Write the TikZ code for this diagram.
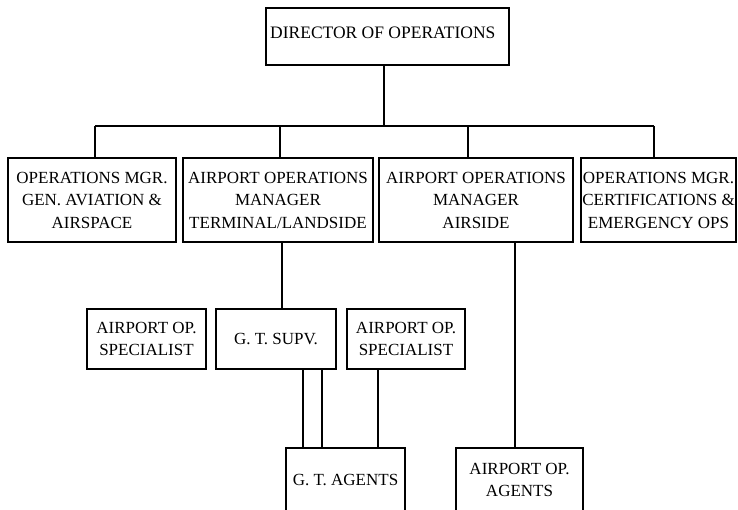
\documentclass[tikz,border=0pt]{standalone}
\usepackage{fontspec}
\setmainfont{Liberation Serif}
\begin{document}
\begin{tikzpicture}[x=1pt,y=-1pt,
  box/.style={draw, line width=1.2pt, inner sep=0pt, align=center,
    font=\fontsize{17}{22.5}\selectfont},
  plain/.style={inner sep=0pt, font=\fontsize{17.5}{22.5}\selectfont},
  link/.style={line width=1.2pt}]
\useasboundingbox (0,0) rectangle (738,509);

% top level
\node[box, minimum width=243, minimum height=57] (dir) at (387.5,36.5) {};
\node[plain, anchor=base west] (dirtext) at (270,38) {DIRECTOR OF OPERATIONS};

% managers
\node[box, minimum width=168, minimum height=84] (gen) at (92,200)
  {OPERATIONS MGR.\\GEN. AVIATION \&\\AIRSPACE};
\node[box, minimum width=190, minimum height=84] (land) at (278,200)
  {AIRPORT OPERATIONS\\MANAGER\\TERMINAL/LANDSIDE};
\node[box, minimum width=194, minimum height=84] (air) at (476,200)
  {AIRPORT OPERATIONS\\MANAGER\\AIRSIDE};
\node[box, minimum width=155, minimum height=84] (cert) at (658.5,200)
  {OPERATIONS MGR.\\CERTIFICATIONS \&\\EMERGENCY OPS};

% staff
\node[box, minimum width=119, minimum height=60] (spec1) at (146.5,339)
  {AIRPORT OP.\\SPECIALIST};
\node[box, minimum width=120, minimum height=60] (supv) at (276,339)
  {G. T. SUPV.};
\node[box, minimum width=118, minimum height=60] (spec2) at (406,339)
  {AIRPORT OP.\\SPECIALIST};
\node[box, minimum width=119, minimum height=64] (gtag) at (345.5,480)
  {G. T. AGENTS};
\node[box, minimum width=127, minimum height=64] (opag) at (519.5,480)
  {AIRPORT OP.\\AGENTS};

% branch bar under the director
\coordinate (b0) at (384,126);
\coordinate (b1) at (95,126);
\coordinate (b2) at (280,126);
\coordinate (b3) at (468,126);
\coordinate (b4) at (654,126);
\draw[link] (b0 |- dir.south) -- (b0);
\draw[link] (b1) -- (b4);
\draw[link] (b1) -- (b1 |- gen.north);
\draw[link] (b2) -- (b2 |- land.north);
\draw[link] (b3) -- (b3 |- air.north);
\draw[link] (b4) -- (b4 |- cert.north);

% lower connectors
\coordinate (c1) at (282,300);
\coordinate (c2) at (303,400);
\coordinate (c3) at (322,400);
\coordinate (c4) at (378,400);
\coordinate (c5) at (515,300);
\draw[link] (c1 |- land.south) -- (c1 |- supv.north);
\draw[link] (c2 |- supv.south) -- (c2 |- gtag.north);
\draw[link] (c3 |- supv.south) -- (c3 |- gtag.north);
\draw[link] (c4 |- spec2.south) -- (c4 |- gtag.north);
\draw[link] (c5 |- air.south) -- (c5 |- opag.north);
\end{tikzpicture}
\end{document}
